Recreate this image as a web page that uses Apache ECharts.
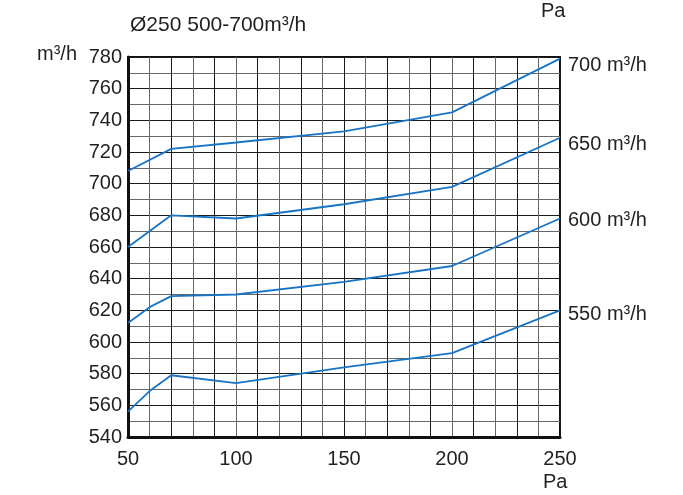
<!DOCTYPE html>
<html>
<head>
<meta charset="utf-8">
<script src="https://cdn.jsdelivr.net/npm/echarts@6/dist/echarts.min.js"></script>
<style>html,body{margin:0;padding:0;background:#fff}#c{width:683px;height:495px}</style>
</head>
<body>
<div id="c"></div>
<script>
const pressure550 = [50, 60, 70, 100, 150, 200, 250];
const flow550 = [556, 569, 579, 574, 584, 593, 620];
const pressure600 = [50, 60, 70, 100, 150, 200, 250];
const flow600 = [612, 622, 629, 630, 638, 648, 678];
const pressure650 = [50, 70, 100, 150, 200, 250];
const flow650 = [660, 680, 678, 687, 698, 729];
const pressure700 = [50, 70, 100, 150, 200, 250];
const flow700 = [708, 722, 726, 733, 745, 779];
const seriesNames = ['550 m³/h', '600 m³/h', '650 m³/h', '700 m³/h'];
const title = 'Ø250 500-700m³/h';
const yUnit = 'm³/h';
const xUnit = 'Pa';

const font = '"Liberation Sans", Arial, sans-serif';
const txt = '#231f20';
const lineColor = '#1874c4';

function mk(xs, ys) { return xs.map((x, i) => [x, ys[i]]); }
const sets = [[pressure550, flow550], [pressure600, flow600], [pressure650, flow650], [pressure700, flow700]];
const offsets = [[8, 4], [8, 2], [8, 7], [8, 7]];

const chart = echarts.init(document.getElementById('c'));
chart.setOption({
  animation: false,
  grid: { left: 128, right: 123, top: 57, bottom: 58, show: true, borderColor: '#111', borderWidth: 2, backgroundColor: 'transparent' },
  xAxis: {
    type: 'value', min: 50, max: 250, interval: 10,
    axisLine: { show: true, onZero: false, lineStyle: { color: '#111', width: 3 } },
    axisTick: { show: false },
    axisLabel: { fontSize: 20, fontFamily: font, color: txt, margin: 12,
      formatter: v => (v % 50 === 0 ? String(v) : '') },
    splitLine: { show: true, lineStyle: { color: ['#1a1a1a', '#666'], width: 1 } }
  },
  yAxis: {
    type: 'value', min: 540, max: 780, interval: 10,
    axisLine: { show: true, onZero: false, lineStyle: { color: '#111', width: 3 } },
    axisTick: { show: false },
    axisLabel: { fontSize: 20, fontFamily: font, color: txt, margin: 6,
      formatter: v => (v % 20 === 0 ? String(v) : '') },
    splitLine: { show: true, lineStyle: { color: ['#1a1a1a', '#666'], width: 1 } }
  },
  series: sets.map((s, i) => ({
    type: 'line', name: seriesNames[i], data: mk(s[0], s[1]),
    symbol: 'none', lineStyle: { color: lineColor, width: 1.8 },
    endLabel: { show: true, formatter: seriesNames[i], fontSize: 20, fontFamily: font, color: txt, offset: offsets[i], distance: 0 }
  })),
  graphic: [
    { type: 'text', left: 130, top: 15, style: { text: title, font: '21px ' + font, fill: txt } },
    { type: 'text', left: 37, top: 44, style: { text: yUnit, font: '20px ' + font, fill: txt } },
    { type: 'text', left: 541, top: 1, style: { text: xUnit, font: '20px ' + font, fill: txt } },
    { type: 'text', left: 543, top: 472, style: { text: xUnit, font: '20px ' + font, fill: txt } }
  ]
});
</script>
</body>
</html>
